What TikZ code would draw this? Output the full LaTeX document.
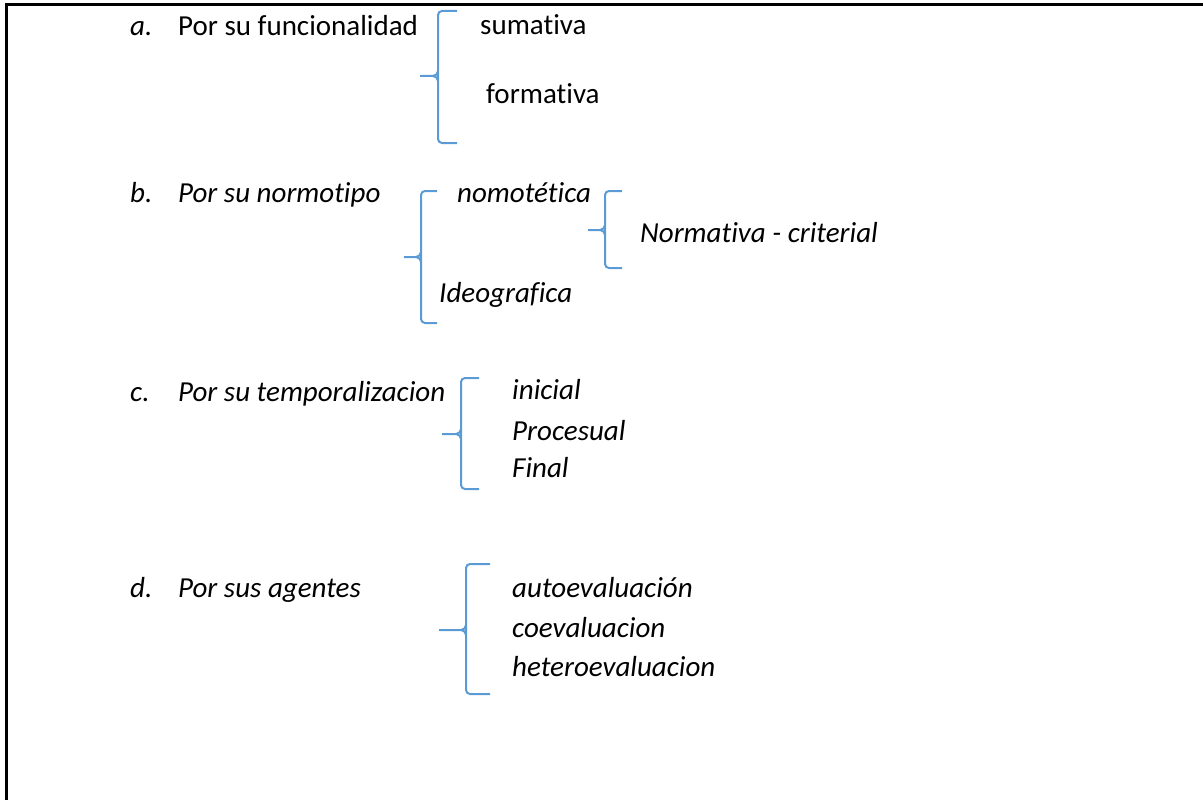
\documentclass[tikz,border=0pt]{standalone}
\usepackage{fontspec}
\setmainfont{Carlito}[Ligatures={NoCommon,TeX}]
\begin{document}
\begin{tikzpicture}[x=1pt,y=-1pt,
  txt/.style={anchor=base west,inner sep=0pt,font=\fontsize{29}{34}\selectfont},
  itx/.style={txt,font=\fontsize{29}{34}\selectfont\itshape},
  brk/.style={draw=brace,line width=2pt,rounded corners=4pt},
  tick/.style={draw=brace,line width=2pt},
  frame/.style={draw=black,line width=3pt}]
\definecolor{brace}{HTML}{5B9BD5}
\newcommand\bracetip[3]{% x of vertical, y of tip, x of left end
  \draw[tick] (#3,#2) -- ({#1-5},#2) to[out=0,in=90] (#1,{#2+5});
  \draw[tick] ({#1-5},#2) to[out=0,in=-90] (#1,{#2-5});}
\useasboundingbox (0,0) rectangle (1203,800);
% frame (top and left only)
\draw[frame] (6,800) -- (6,5) -- (1203,5);
% a.
\node[itx] (la) at (130,36) {a.};
\node[txt] (ta) at (178,36) {Por su funcionalidad};
\node[txt] (a1) at (480,35) {sumativa};
\node[txt] (a2) at (486,103) {formativa};
\draw[brk] (457,11) -- (438,11) -- (438,143) -- (457,143);
\bracetip{438}{76}{420}
% b.
\node[itx] (lb) at (130,202) {b.};
\node[itx] (tb) at (178,202) {Por su normotipo};
\node[itx] (b1) at (457,202) {nomotética};
\node[itx] (b2) at (439,302) {Ideografica};
\node[itx] (b3) at (640,242) {Normativa - criterial};
\draw[brk] (437,191) -- (421,191) -- (421,323) -- (437,323);
\bracetip{421}{257}{404}
\draw[brk] (622,191) -- (605,191) -- (605,268) -- (622,268);
\bracetip{605}{230}{588}
% c.
\node[itx] (lc) at (130,401) {c.};
\node[itx] (tc) at (178,401) {Por su temporalizacion};
\node[itx] (c1) at (512,399) {inicial};
\node[itx] (c2) at (512,440) {Procesual};
\node[itx] (c3) at (512,477) {Final};
\draw[brk] (479,378) -- (461,378) -- (461,489) -- (479,489);
\bracetip{461}{434}{442}
% d.
\node[itx] (ld) at (130,597) {d.};
\node[itx] (td) at (178,597) {Por sus agentes};
\node[itx] (d1) at (512,597) {autoevaluación};
\node[itx] (d2) at (512,637) {coevaluacion};
\node[itx] (d3) at (512,676) {heteroevaluacion};
\draw[brk] (490,564) -- (466,564) -- (466,694) -- (490,694);
\bracetip{466}{630}{439}
\end{tikzpicture}
\end{document}
